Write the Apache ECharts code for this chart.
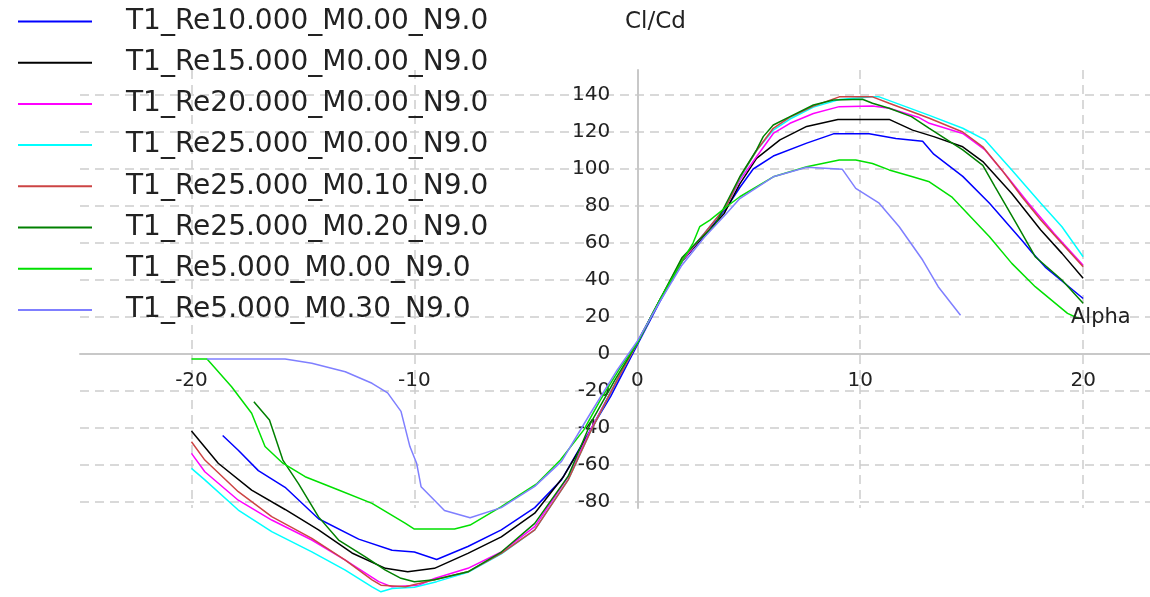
<!DOCTYPE html>
<html>
<head>
<meta charset="utf-8">
<title>Cl/Cd</title>
<script src="https://cdn.jsdelivr.net/npm/echarts@6/dist/echarts.min.js"></script>
<style>
html, body { margin: 0; padding: 0; background: #fff; }
#main { width: 1150px; height: 597px; }
</style>
</head>
<body>
<div id="main"></div>
<script>
// 曲线数据: [alpha, Cl/Cd]
var names = ['T1_Re10.000_M0.00_N9.0', 'T1_Re15.000_M0.00_N9.0', 'T1_Re20.000_M0.00_N9.0', 'T1_Re25.000_M0.00_N9.0',
    'T1_Re25.000_M0.10_N9.0', 'T1_Re25.000_M0.20_N9.0', 'T1_Re5.000_M0.00_N9.0', 'T1_Re5.000_M0.30_N9.0'];
var colors = ['#0000ff', '#000000', '#ff00ff', '#00ffff', '#cc4444', '#008000', '#00e000', '#7f7fff'];

var re10 = [[-18.6,-44],[-17.9,-52],[-17,-63],[-15.8,-72],[-14.3,-89],[-12.5,-100],[-11,-106],[-10,-107],[-9,-111],[-7.6,-104],[-6.1,-95],[-4.6,-83],[-3.4,-68],[-2.4,-47],[-1.2,-23],[0,5],[1,28],[2,50],[3,64],[4,79],[4.6,90],[5.2,100],[6.1,107],[7.6,114],[8.8,119],[10.4,119],[11.6,116.5],[12.8,115],[13.3,108],[14.6,96],[15.8,81.5],[17.25,61.5],[17.7,55],[18.3,47],[19.2,38],[20,30]];
var re15 = [[-20,-41.6],[-18.8,-59],[-17.3,-73.5],[-15.8,-84],[-14.3,-95],[-12.8,-107.5],[-11.3,-115.8],[-10.3,-117.7],[-9.1,-115.8],[-7.6,-107.7],[-6.1,-98.8],[-4.6,-86],[-3.3,-66],[-2.25,-44.7],[-1.06,-17.7],[0,6],[1,29],[2,50],[3,64],[3.9,76],[4.6,92],[5.35,105.7],[6.4,115.7],[7.6,123],[9,126.8],[11.3,126.8],[12.35,121],[13.3,117.5],[14.6,112],[15.5,104],[16.8,86.8],[18.1,67],[19.05,54.4],[20,41]];
var re20 = [[-20,-53.7],[-19.4,-63.6],[-17.9,-79],[-16.4,-89.7],[-14.6,-100.5],[-13.1,-111.4],[-11.6,-123],[-11,-125.8],[-9.8,-124.9],[-9.1,-121.3],[-7.6,-115.8],[-6.1,-107],[-4.6,-93.3],[-3.1,-66.3],[-2.1,-41],[-0.9,-14],[0,6],[1,29],[2,50],[3,65],[4,80],[4.6,94],[5.35,106.6],[6.1,119.2],[6.85,124.7],[7.9,130],[9.06,133.7],[10.55,134],[11.3,132.8],[12.6,128],[13.1,124.7],[14.6,119.2],[15.6,110.3],[16.6,95.8],[17.55,81.5],[18.7,65.2],[20,48]];
var re25 = [[-20,-61.8],[-19.4,-68],[-17.9,-84.3],[-16.4,-96],[-14.6,-106.9],[-13.1,-116.8],[-11.9,-125.8],[-11.5,-128.5],[-11,-126.7],[-10,-126],[-9,-123],[-7.6,-118],[-6.1,-108],[-4.6,-95],[-3.1,-68],[-2.1,-42],[-0.9,-14],[0,6],[1,29],[2,51],[3,65],[4,80],[4.6,95],[5.35,110],[6.1,121],[6.85,127],[7.9,133.5],[9.06,137.5],[10.55,139],[10.85,139],[13.1,129],[14.6,122],[15.6,115.7],[16.8,99.5],[18.1,81.5],[19.05,68.8],[20,52.6]];
var re25m10 = [[-20,-47.4],[-19.4,-57.3],[-17.9,-74.4],[-16.4,-87.9],[-14.6,-99.6],[-13.1,-111.4],[-11.9,-122],[-11.5,-124.9],[-10.4,-125.8],[-9.1,-122],[-7.6,-117.7],[-6.1,-107.7],[-4.6,-95],[-3.1,-68],[-2.1,-42],[-0.9,-14],[0,6],[1,29],[2,51],[3,65],[4,80],[4.6,95.5],[5.35,110],[6.1,122],[6.85,128],[7.9,134],[9.06,139],[10.55,139],[11.3,135.5],[13.1,127.4],[14.6,120],[15.5,112],[16.35,99.5],[17.25,85],[18.1,72.4],[19.05,59.8],[20,47.2]];
var re25m20 = [[-17.2,-25.8],[-16.5,-35.7],[-16.2,-46.5],[-15.9,-57.3],[-15.2,-70],[-14.3,-88],[-13.4,-100.5],[-12.2,-109.6],[-11.3,-116.8],[-10.6,-121.2],[-10,-123],[-9.1,-122],[-7.6,-117.7],[-6.1,-107],[-4.6,-91.5],[-3.1,-66],[-2.1,-37.5],[-1,-14],[0,6],[1,29],[2,52],[2.8,62],[3.5,70],[4.6,95.8],[5.35,110.3],[5.65,117.5],[6.1,123.8],[6.85,128.3],[7.9,134.6],[8.8,137.3],[10.1,137.7],[10.55,135.5],[11.3,132.8],[12.3,128.3],[13.1,122],[14.6,110.3],[15.5,102],[16.05,90.4],[17,70.6],[17.85,52.6],[19.05,40],[20,27.4]];
var re5 = [[-20,-2.7],[-19.3,-2.7],[-18.2,-17.7],[-17.3,-32],[-16.7,-50],[-15.9,-59],[-14.9,-66.3],[-13.4,-73.5],[-11.9,-80.7],[-10.4,-91.5],[-10,-94.6],[-8.2,-94.6],[-7.5,-92.4],[-6.1,-82.5],[-4.5,-70],[-3.45,-57.3],[-2.4,-41],[-1.66,-24.9],[-0.8,-8],[0,6],[1,29],[2,50],[2.5,60],[2.8,68.8],[3.26,72.4],[4,79.6],[4.6,85],[6.1,95.8],[7.6,101.2],[9.06,104.9],[9.8,104.9],[10.55,103],[11.3,99.5],[12.35,95.8],[13.1,93.1],[14.1,85],[15.8,63.4],[16.8,49],[17.85,36.4],[19.3,22],[19.8,19.2]];
var re5m30 = [[-19.3,-2.7],[-15.8,-2.7],[-14.6,-5],[-13.1,-9.6],[-11.9,-15.8],[-11.2,-21],[-10.6,-31],[-10.2,-50],[-9.9,-59],[-9.7,-71.7],[-8.65,-84.5],[-7.5,-88.5],[-6.1,-83],[-4.6,-71.5],[-3.4,-58],[-2.1,-32],[-0.9,-8.6],[0,7],[1,28],[2,48],[3,63],[4,76],[4.6,84],[6.1,95.8],[7.6,100.9],[9.2,99.8],[9.8,89.5],[10.85,81.5],[11.75,68.8],[12.8,50.8],[13.5,36.4],[14.5,21]];

var xTicks = [-20, -10, 0, 10, 20];
var yTicks = [-80, -60, -40, -20, 0, 20, 40, 60, 80, 100, 120, 140];

var allData = [re10, re15, re20, re25, re25m10, re25m20, re5, re5m30];
var font = 'DejaVu Sans';
var gridLine = { lineStyle: { color: '#cdcdcd', width: 1.5, type: [9, 6] } };
var axisLine = { onZero: false, lineStyle: { color: '#c8c8c8', width: 2 } };

// 坐标范围与绘图区
var xMin = -25, xMax = 23, yMin = -83.2, yMax = 153.5;
var gLeft = 80, gRight = 0, gTop = 70, gBottom = 89;
var W = 1150, H = 597;
// 轴线穿过原点: 用 offset 把两条轴移到 0 处
var zeroX = gLeft + (0 - xMin) / (xMax - xMin) * (W - gLeft - gRight);
var zeroY = gTop + (yMax - 0) / (yMax - yMin) * (H - gTop - gBottom);

var series = [];
for (var i = 0; i < allData.length; i++) {
    series.push({
        name: names[i],
        type: 'line',
        data: allData[i],
        showSymbol: false,
        symbol: 'none',
        clip: false,
        silent: true,
        color: colors[i],
        lineStyle: { width: 1.5, color: colors[i] }
    });
}

var chart = echarts.init(document.getElementById('main'));
chart.setOption({
    animation: false,
    title: [
        { text: 'Cl/Cd', left: 625, top: 11, padding: 0,
          textStyle: { fontFamily: font, fontSize: 23, fontWeight: 'normal', color: '#222' } },
        { text: 'Alpha', left: 1071, top: 307, padding: 0,
          textStyle: { fontFamily: font, fontSize: 21, fontWeight: 'normal', color: '#222' } }
    ],
    legend: {
        orient: 'vertical',
        left: 18,
        top: 1,
        padding: 0,
        itemGap: 0.2,
        itemWidth: 74,
        itemHeight: 2,
        icon: 'rect',
        selectedMode: false,
        data: names,
        textStyle: { fontFamily: font, fontSize: 28, color: '#222', lineHeight: 41, padding: [0, 0, 0, 29] }
    },
    grid: { left: gLeft, right: gRight, top: gTop, bottom: gBottom, outerBoundsMode: 'none' },
    xAxis: {
        type: 'value',
        min: xMin,
        max: xMax,
        position: 'bottom',
        offset: -(H - gBottom - zeroY),
        axisLine: axisLine,
        axisTick: { show: false, customValues: xTicks },
        axisLabel: { customValues: xTicks, margin: 17, fontFamily: font, fontSize: 20, color: '#222' },
        splitLine: gridLine
    },
    yAxis: {
        type: 'value',
        min: yMin,
        max: yMax,
        position: 'left',
        offset: -(zeroX - gLeft),
        axisLine: axisLine,
        axisTick: { show: false, customValues: yTicks },
        axisLabel: { customValues: yTicks, margin: 27, fontFamily: font, fontSize: 20, color: '#222' },
        splitLine: gridLine
    },
    series: series
});
</script>
</body>
</html>
